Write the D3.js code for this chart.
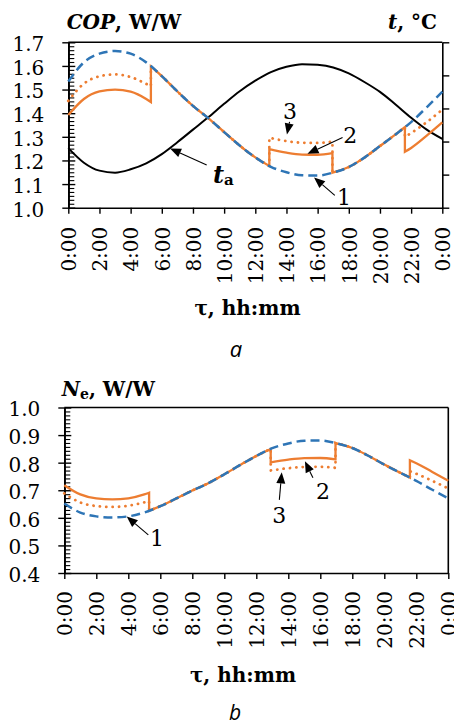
<!DOCTYPE html>
<html><head><meta charset="utf-8">
<script src="https://cdn.jsdelivr.net/npm/d3@7"></script>
<style>body{margin:0;background:#fff} svg{display:block}</style>
</head><body><svg id="c" width="454" height="726"></svg>
<script>
// ---------------- data ----------------
const hours = [0,1,2,3,4,5,6,7,8,9,10,11,12,13,14,15,16,17,18,19,20,21,22,23,24];
const xTickHours = [0,2,4,6,8,10,12,14,16,18,20,22,24];
const xTickLabels = ["0:00","2:00","4:00","6:00","8:00","10:00","12:00","14:00","16:00","18:00","20:00","22:00","0:00"];
const copTicks = [1.0,1.1,1.2,1.3,1.4,1.5,1.6,1.7];
const neTicks = [0.4,0.5,0.6,0.7,0.8,0.9,1.0];
const tTicks = [10,15,20,25,30,35];

// curve 1 (blue dashed), COP
const cop1 = [1.534,1.615,1.652,1.663,1.652,1.615,1.557,1.492,1.431,1.378,1.320,1.263,1.213,1.173,1.150,1.137,1.136,1.149,1.172,1.212,1.261,1.310,1.362,1.425,1.491];
// ambient temperature t_a, °C (right axis, unlabelled)
const tAir = [19.0,16.8,15.6,15.3,15.8,16.7,18.1,19.9,21.8,23.7,25.7,27.6,29.2,30.5,31.3,31.7,31.6,31.2,30.3,29.0,27.5,25.6,23.6,21.8,20.4];
// curves 2 (solid) and 3 (dotted), COP: [hour, value]
const cop2Morning = [[0,1.392],[1,1.460],[2,1.492],[3,1.500],[4,1.491],[5,1.460],[5.3,1.447]];
const cop2Day = [[12.9,1.248],[14,1.233],[15,1.225],[16,1.224],[16.95,1.231]];
const cop2Evening = [[21.6,1.237],[22,1.253],[23,1.305],[24,1.361]];
const cop3Morning = [[0,1.452],[1,1.525],[2,1.556],[3,1.564],[4,1.553],[5,1.524],[5.3,1.514]];
const cop3Day = [[12.9,1.296],[14,1.282],[15,1.275],[16,1.274],[16.95,1.280]];
const cop3Evening = [[21.6,1.300],[22,1.316],[23,1.362],[24,1.415]];
const copShared1 = [[5.3,1.598],[6,1.557],[7,1.492],[8,1.431],[9,1.378],[10,1.320],[11,1.263],[12,1.213],[12.9,1.177]];
const copShared2 = [[16.95,1.148],[18,1.172],[19,1.212],[20,1.261],[21,1.310],[21.6,1.341]];

// N_e
const ne1 = [0.6519,0.6192,0.6053,0.6013,0.6053,0.6192,0.6423,0.6702,0.6988,0.7257,0.7576,0.7918,0.8244,0.8525,0.8696,0.8795,0.8803,0.8703,0.8532,0.8251,0.7930,0.7634,0.7342,0.7018,0.6707];
const ne2Morning = [[0,0.7184],[1,0.6849],[2,0.6702],[3,0.6667],[4,0.6707],[5,0.6849],[5.3,0.6911]];
const ne2Day = [[12.9,0.8013],[14,0.8110],[15,0.8163],[16,0.8170],[16.95,0.8123]];
const ne2Evening = [[21.6,0.8084],[22,0.7981],[23,0.7663],[24,0.7348]];
const ne3Morning = [[0,0.6887],[1,0.6557],[2,0.6427],[3,0.6394],[4,0.6439],[5,0.6562],[5.3,0.6605]];
const ne3Day = [[12.9,0.7716],[14,0.7800],[15,0.7843],[16,0.7849],[16.95,0.7813]];
const ne3Evening = [[21.6,0.7692],[22,0.7599],[23,0.7342],[24,0.7067]];
const neShared1 = [[5.3,0.6258],[6,0.6423],[7,0.6702],[8,0.6988],[9,0.7257],[10,0.7576],[11,0.7918],[12,0.8244],[12.9,0.8496]];
const neShared2 = [[16.95,0.8711],[18,0.8532],[19,0.8251],[20,0.7930],[21,0.7634],[21.6,0.7457]];

// annotations: [tipHour, tipValue, tailHour, tailValue, labelHour, labelBaselineValue, label]
const copNotes = [[15.77,1.128,17.1,1.052,17.69,1.011,"1"],[15.35,1.228,17.6,1.297,18.1,1.274,"2"],[14.03,1.310,14.2,1.363,14.23,1.377,"3"]];
const copTaNote = [6.53,1.251,8.88,1.181,9.28,1.105];
const neNotes = [[3.9,0.605,5.25,0.538,5.79,0.498,"1"],[15.04,0.805,15.54,0.745,16.17,0.668,"2"],[13.59,0.765,13.44,0.665,13.44,0.583,"3"]];

// ---------------- drawing ----------------
const svg = d3.select("#c");
const SERIF = "'DejaVu Serif', serif";
const BLUE = "#2E75B6", ORANGE = "#ED7D31";

function seriesPath(segs, x, y){
  const line = d3.line().x(d=>x(d[0])).y(d=>y(d[1])).curve(d3.curveMonotoneX);
  return segs.map((s,i)=>{const p=line(s); return i? "L"+p.slice(1) : p;}).join("");
}
function minorVals(ticks, n){
  const out=[];
  for(let i=0;i<ticks.length-1;i++){for(let k=1;k<n;k++){out.push(ticks[i]+(ticks[i+1]-ticks[i])*k/n);}}
  return out;
}
function styleAxis(g){
  g.selectAll("path.domain").attr("stroke","#000").attr("stroke-width",1.6);
  g.selectAll(".tick line").attr("stroke","#000").attr("stroke-width",1.4);
  g.selectAll("text").attr("font-family",SERIF).attr("font-size",20).attr("fill","#000");
}
function arrow(g, x1,y1,x2,y2){
  // tip at (x1,y1), tail at (x2,y2)
  const dx=x1-x2, dy=y1-y2, L=Math.hypot(dx,dy), ux=dx/L, uy=dy/L;
  const hl=11, hw=4.5;
  const bx=x1-ux*hl, by=y1-uy*hl;
  g.append("line").attr("x1",x2).attr("y1",y2).attr("x2",bx).attr("y2",by).attr("stroke","#000").attr("stroke-width",1.1);
  g.append("path").attr("d",`M${x1},${y1}L${bx-uy*hw},${by+ux*hw}L${bx+uy*hw},${by-ux*hw}Z`).attr("fill","#000");
}

function panel(o){
  const g = svg.append("g");
  const x = d3.scaleLinear().domain([0,24]).range([o.left,o.right]);
  const y = d3.scaleLinear().domain([o.ticks[0],o.ticks[o.ticks.length-1]]).range([o.bottom,o.top]);
  g.append("line").attr("x1",o.left).attr("x2",o.right).attr("y1",o.top).attr("y2",o.top).attr("stroke","#000").attr("stroke-width",1.6);
  const gx = g.append("g").attr("transform",`translate(0,${o.bottom})`)
    .call(d3.axisBottom(x).tickValues(xTickHours).tickSize(6).tickSizeOuter(0).tickFormat((d,i)=>xTickLabels[i]));
  styleAxis(gx);
  gx.selectAll("text").attr("transform","rotate(-90)").attr("text-anchor","end").attr("x",-o.xlabGap).attr("y",0).attr("dy","0.36em");
  const gy = g.append("g").attr("transform",`translate(${o.left},0)`)
    .call(d3.axisLeft(y).tickValues(o.ticks).tickSize(6).tickSizeOuter(0).tickPadding(18).tickFormat(d3.format(".1f")));
  styleAxis(gy);
  gy.selectAll("text").attr("dy","0.42em");
  const gyi = g.append("g").attr("transform",`translate(${o.left},0)`)
    .call(d3.axisRight(y).tickValues(o.ticks).tickSize(7).tickSizeOuter(0).tickFormat(""));
  styleAxis(gyi);
  const gym = g.append("g").attr("transform",`translate(${o.left},0)`)
    .call(d3.axisRight(y).tickValues(minorVals(o.ticks,o.minorN)).tickSize(6).tickSizeOuter(0).tickFormat(""));
  styleAxis(gym);
  gym.selectAll(".tick line").attr("stroke-width",1.1);
  return {g,x,y};
}

// ---- panel a ----
const A = panel({left:68.3,right:442.3,top:42.3,bottom:207.7,ticks:copTicks,minorN:6,xlabGap:19});
const yT = d3.scaleLinear().domain([10,35]).range([207.7,42.3]);
const gR = A.g.append("g").attr("transform","translate(442.3,0)")
  .call(d3.axisRight(yT).tickValues(tTicks).tickSize(7).tickSizeOuter(0).tickFormat(""));
styleAxis(gR);

const lineH = (yy)=>d3.line().x((d,i)=>A.x(hours[i])).y(d=>yy(d)).curve(d3.curveMonotoneX);
A.g.append("path").attr("d",lineH(yT)(tAir)).attr("fill","none").attr("stroke","#000").attr("stroke-width",2);
A.g.append("path").attr("d",seriesPath([cop2Morning,copShared1,cop2Day,copShared2,cop2Evening],A.x,A.y))
  .attr("fill","none").attr("stroke",ORANGE).attr("stroke-width",2.3);
A.g.append("path").attr("d",seriesPath([cop3Morning,copShared1,cop3Day,copShared2,cop3Evening],A.x,A.y))
  .attr("fill","none").attr("stroke",ORANGE).attr("stroke-width",2.8).attr("stroke-linecap","round").attr("stroke-dasharray","0.1,6.3");
A.g.append("path").attr("d",lineH(A.y)(cop1)).attr("fill","none").attr("stroke",BLUE).attr("stroke-width",2.5).attr("stroke-dasharray","9,5");

copNotes.forEach(n=>{
  arrow(A.g, A.x(n[0]),A.y(n[1]),A.x(n[2]),A.y(n[3]));
  A.g.append("text").attr("x",A.x(n[4])).attr("y",A.y(n[5])).attr("text-anchor","middle")
    .attr("font-family",SERIF).attr("font-size",22).text(n[6]);
});
arrow(A.g, A.x(copTaNote[0]),A.y(copTaNote[1]),A.x(copTaNote[2]),A.y(copTaNote[3]));
const ta = A.g.append("text").attr("x",A.x(copTaNote[4])).attr("y",A.y(copTaNote[5]))
  .attr("font-family",SERIF).attr("font-weight","bold");
ta.append("tspan").attr("font-style","italic").attr("font-size",24).text("t");
ta.append("tspan").attr("font-size",15).attr("dy",2).text("a");

// titles a
const t1 = svg.append("text").attr("x",66.7).attr("y",29.3).attr("font-family",SERIF).attr("font-weight","bold").attr("font-size",20);
t1.append("tspan").attr("font-style","italic").text("COP");
t1.append("tspan").text(", W/W");
const t2 = svg.append("text").attr("x",437).attr("y",29.3).attr("text-anchor","end").attr("font-family",SERIF).attr("font-weight","bold").attr("font-size",20);
t2.append("tspan").attr("font-style","italic").text("t");
t2.append("tspan").text(", °C");
svg.append("text").attr("x",247.5).attr("y",315).attr("text-anchor","middle").attr("font-family",SERIF).attr("font-weight","bold").attr("font-size",20).text("τ, hh:mm");
svg.append("text").attr("x",236).attr("y",356.5).attr("text-anchor","middle").attr("font-family","'Open Sans', sans-serif").attr("font-style","italic").attr("font-size",22).text("a");

// ---- panel b ----
const B = panel({left:64.3,right:448.3,top:407.5,bottom:573,ticks:neTicks,minorN:7,xlabGap:18});
B.g.append("line").attr("x1",448.3).attr("x2",448.3).attr("y1",407.5).attr("y2",573).attr("stroke","#000").attr("stroke-width",1.6);
const lineB = d3.line().x((d,i)=>B.x(hours[i])).y(d=>B.y(d)).curve(d3.curveMonotoneX);
B.g.append("path").attr("d",seriesPath([ne2Morning,neShared1,ne2Day,neShared2,ne2Evening],B.x,B.y))
  .attr("fill","none").attr("stroke",ORANGE).attr("stroke-width",2.3);
B.g.append("path").attr("d",seriesPath([ne3Morning,neShared1,ne3Day,neShared2,ne3Evening],B.x,B.y))
  .attr("fill","none").attr("stroke",ORANGE).attr("stroke-width",2.8).attr("stroke-linecap","round").attr("stroke-dasharray","0.1,6.3");
B.g.append("path").attr("d",lineB(ne1)).attr("fill","none").attr("stroke",BLUE).attr("stroke-width",2.5).attr("stroke-dasharray","9,5");
neNotes.forEach(n=>{
  arrow(B.g, B.x(n[0]),B.y(n[1]),B.x(n[2]),B.y(n[3]));
  B.g.append("text").attr("x",B.x(n[4])).attr("y",B.y(n[5])).attr("text-anchor","middle")
    .attr("font-family",SERIF).attr("font-size",22).text(n[6]);
});
const t3 = svg.append("text").attr("x",61.7).attr("y",396).attr("font-family",SERIF).attr("font-weight","bold").attr("font-size",20);
t3.append("tspan").attr("font-style","italic").text("N");
t3.append("tspan").attr("font-size",14).attr("dy",3).text("e");
t3.append("tspan").attr("dy",-3).text(", W/W");
svg.append("text").attr("x",243).attr("y",681.5).attr("text-anchor","middle").attr("font-family",SERIF).attr("font-weight","bold").attr("font-size",20).text("τ, hh:mm");
svg.append("text").attr("x",235).attr("y",719.5).attr("text-anchor","middle").attr("font-family","'Open Sans', sans-serif").attr("font-style","italic").attr("font-size",21).text("b");
</script></body></html>
